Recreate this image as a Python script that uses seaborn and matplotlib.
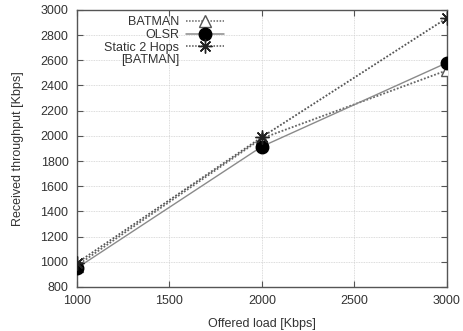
import matplotlib
matplotlib.use("Agg")
import matplotlib.pyplot as plt
from matplotlib.lines import Line2D
import seaborn as sns
import pandas as pd

offered_load = [1000, 2000, 3000]
batman = [970, 1980, 2520]
olsr = [950, 1915, 2580]
static_2hops = [990, 1990, 2935]

y_ticks = [800, 1000, 1200, 1400, 1600, 1800, 2000, 2200, 2400, 2600, 2800, 3000]
x_ticks = [1000, 1500, 2000, 2500, 3000]

sns.set_theme(style="white")
plt.rcParams["font.family"] = ["Liberation Sans", "DejaVu Sans"]

df = pd.DataFrame({
    "load": offered_load * 3,
    "throughput": batman + olsr + static_2hops,
    "series": ["BATMAN"] * 3 + ["OLSR"] * 3 + ["Static"] * 3,
})

fig = plt.figure(figsize=(4.63, 3.31), dpi=100)
ax = fig.add_axes([0.166, 0.133, 0.799, 0.837])

star = (8, 2, 0)
styles = {
    "BATMAN": dict(color="#666666", ls=(0, (1.0, 1.0)), lw=1.3, marker="^",
                   ms=8, mfc="white", mec="#555555", mew=1.0),
    "OLSR": dict(color="#8a8a8a", ls="-", lw=1.0, marker="o",
                 ms=9, mfc="black", mec="black", mew=1.0),
    "Static": dict(color="#555555", ls=(0, (1.0, 1.0)), lw=1.3, marker=star,
                   ms=10, mfc="black", mec="#222222", mew=1.0),
}

for name in ["BATMAN", "OLSR", "Static"]:
    st = styles[name]
    sub = df[df["series"] == name]
    sns.lineplot(data=sub, x="load", y="throughput", ax=ax, color=st["color"],
                 linestyle=st["ls"], linewidth=st["lw"], marker=st["marker"],
                 markersize=st["ms"], markerfacecolor=st["mfc"],
                 markeredgecolor=st["mec"], markeredgewidth=st["mew"],
                 legend=False, zorder=3)

ax.set_xlim(1000, 3000)
ax.set_ylim(800, 3000)
ax.set_xticks(x_ticks)
ax.set_yticks(y_ticks)
ax.tick_params(direction="in", length=4, width=0.8, color="#555555",
               labelsize=9, labelcolor="#333333", top=True, right=True,
               bottom=True, left=True, pad=6)
ax.grid(True, color="#d0d0d0", linestyle=(0, (1, 1)), linewidth=0.6)
for sp in ax.spines.values():
    sp.set_color("#555555")
    sp.set_linewidth(1.0)

ax.set_xlabel("Offered load [Kbps]", fontsize=9, color="#333333", labelpad=8)
ax.set_ylabel("Received throughput [Kbps]", fontsize=9, color="#333333", labelpad=12)


def legend_handle(name):
    st = styles[name]
    return Line2D([], [], color=st["color"], linestyle=st["ls"], linewidth=1.1,
                  marker=st["marker"], markersize=st["ms"],
                  markerfacecolor=st["mfc"], markeredgecolor=st["mec"],
                  markeredgewidth=st["mew"])


handles = [legend_handle("BATMAN"), legend_handle("OLSR"), legend_handle("Static"),
           Line2D([], [], linestyle="none", marker="none")]
labels = ["BATMAN", "OLSR", "Static 2 Hops", "[BATMAN]"]
leg = ax.legend(handles, labels, loc="upper right", bbox_to_anchor=(0.397, 0.977),
                frameon=False, markerfirst=False, fontsize=9, handlelength=3.0,
                handletextpad=0.55, labelspacing=0.05, borderaxespad=0.0,
                borderpad=0.0)
for t in leg.get_texts():
    t.set_color("#333333")

fig.savefig("out.png", dpi=100)
